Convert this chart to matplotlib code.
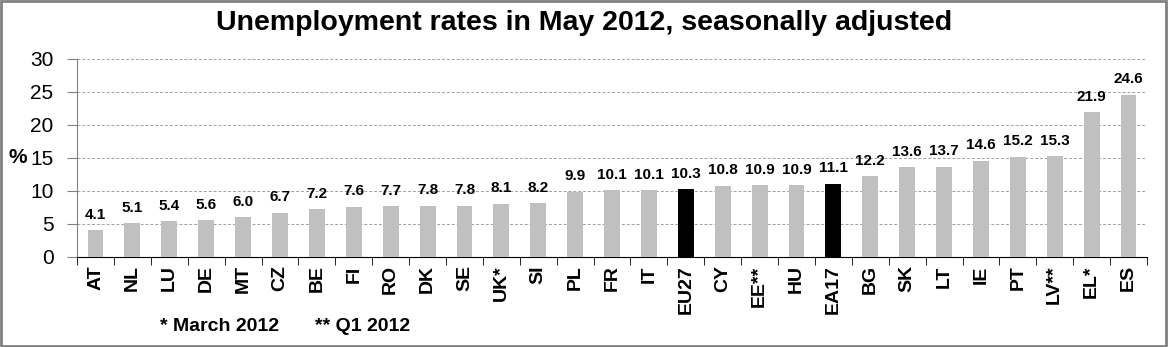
import matplotlib.pyplot as plt
from matplotlib.patches import Rectangle
from matplotlib.ticker import FixedLocator

countries = ["AT", "NL", "LU", "DE", "MT", "CZ", "BE", "FI", "RO", "DK", "SE", "UK*",
             "SI", "PL", "FR", "IT", "EU27", "CY", "EE**", "HU", "EA17", "BG", "SK",
             "LT", "IE", "PT", "LV**", "EL*", "ES"]
rates = [4.1, 5.1, 5.4, 5.6, 6.0, 6.7, 7.2, 7.6, 7.7, 7.8, 7.8, 8.1,
         8.2, 9.9, 10.1, 10.1, 10.3, 10.8, 10.9, 10.9, 11.1, 12.2, 13.6,
         13.7, 14.6, 15.2, 15.3, 21.9, 24.6]
aggregates = ["EU27", "EA17"]
y_ticks = [0, 5, 10, 15, 20, 25, 30]

plt.rcParams["font.family"] = ["Liberation Sans", "DejaVu Sans"]

fig = plt.figure(figsize=(11.68, 3.47), dpi=100)
ax = fig.add_axes([0.066, 0.2594, 0.916, 0.5706])

x = list(range(len(countries)))
colors = ["black" if c in aggregates else "#c0c0c0" for c in countries]
ax.bar(x, rates, width=0.43, color=colors, zorder=3)

for xi, v in zip(x, rates):
    ax.annotate(f"{v:.1f}", (xi, v), xytext=(0, 6), textcoords="offset points",
                ha="center", va="bottom", fontsize=11, fontweight="bold")

ax.set_xlim(-0.5, len(countries) - 0.5)
ax.set_ylim(0, 30)
ax.set_yticks(y_ticks)
ax.set_yticklabels([str(t) for t in y_ticks], fontsize=15)
ax.tick_params(axis="y", direction="out", length=7, color="#808080", pad=10)

# labels centred on bars, tick marks between categories
ax.set_xticks(x)
ax.set_xticklabels(countries, rotation=90, fontsize=14, fontweight="bold")
ax.tick_params(axis="x", which="major", length=0, pad=6)
ax.xaxis.set_minor_locator(FixedLocator([i - 0.5 for i in range(len(countries) + 1)]))
ax.tick_params(axis="x", which="minor", direction="out", length=6, color="black")

ax.yaxis.grid(True, linestyle=(0, (3, 2)), color="#a0a0a0", linewidth=0.7, zorder=0)
for side in ["top", "right"]:
    ax.spines[side].set_visible(False)
ax.spines["left"].set_color("#808080")
ax.spines["bottom"].set_color("black")

ax.text(-0.047, 0.5, "%", transform=ax.transAxes, ha="right", va="center",
        fontsize=15, fontweight="bold")

fig.text(0.5, 0.935, "Unemployment rates in May 2012, seasonally adjusted",
         ha="center", va="center", fontsize=20.5, fontweight="bold")
fig.text(0.137, 0.058, "* March 2012", ha="left", va="center", fontsize=14, fontweight="bold")
fig.text(0.27, 0.058, "** Q1 2012", ha="left", va="center", fontsize=14, fontweight="bold")

fig.patches.append(Rectangle((0.001, 0.002), 0.997, 0.994, transform=fig.transFigure,
                             fill=False, edgecolor="#808080", linewidth=2))

fig.savefig("out.png", dpi=100)
